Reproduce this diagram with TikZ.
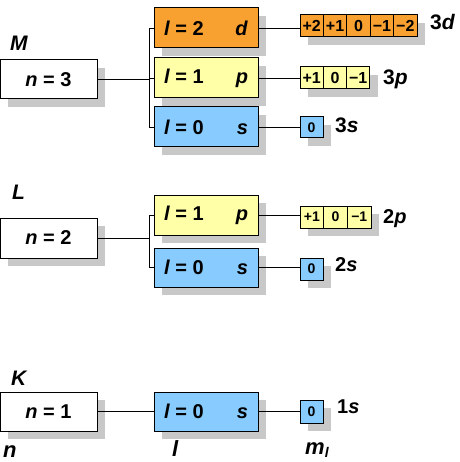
\documentclass[tikz,border=0pt]{standalone}
\usepackage{fontspec}
\setmainfont{Liberation Sans}
\usetikzlibrary{shadows}
\definecolor{orng}{RGB}{248,160,48}
\definecolor{yel}{RGB}{255,255,168}
\definecolor{blu}{RGB}{136,204,255}
\definecolor{shd}{RGB}{200,200,200}
\tikzset{
  shbox/.style={draw, line width=1pt, anchor=north west, inner sep=0pt, outer sep=0pt,
    drop shadow={shadow xshift=8pt, shadow yshift=-8pt, fill=shd, opacity=1}},
  nbox/.style={shbox, fill=white, minimum width=97pt, minimum height=39pt,
    font=\bfseries\fontsize{20}{20}\selectfont},
  lbox/.style={shbox, minimum width=104pt, minimum height=40pt,
    font=\bfseries\fontsize{20}{20}\selectfont},
  cell/.style={shbox, minimum height=22pt, font=\bfseries\fontsize{16}{16}\selectfont},
  scell/.style={cell, font=\bfseries\fontsize{14}{14}\selectfont},
  lab/.style={anchor=base west, inner sep=0pt, font=\bfseries\fontsize{21}{21}\selectfont},
  big/.style={lab, font=\bfseries\itshape\fontsize{21}{21}\selectfont},
  conn/.style={line width=0.9pt},
}
\newcommand{\lt}[2]{\makebox[84pt]{\textit{l} = #1\hfill\textit{#2}}}
\begin{document}
\begin{tikzpicture}[x=1pt,y=-1pt]
\useasboundingbox (0,0) rectangle (459,462);

% ---------------- M shell ----------------
\node[big] (M) at (10,51) {M};
\node[nbox] (n3) at (0,60) {\textit{n} = 3};
\node[lbox, fill=orng] (l32) at (154,8) {\lt{2}{d}};
\node[lbox, fill=yel] (l31) at (154,58) {\lt{1}{p}};
\node[lbox, fill=blu] (l30) at (154,107) {\lt{0}{s}};

\node[cell, fill=orng, minimum width=23.4pt] (d1) at (300,15) {+2};
\node[cell, fill=orng, minimum width=23.4pt] (d2) at (d1.north east) {+1};
\node[cell, fill=orng, minimum width=23.4pt] (d3) at (d2.north east) {0};
\node[cell, fill=orng, minimum width=23.4pt] (d4) at (d3.north east) {−1};
\node[cell, fill=orng, minimum width=23.4pt] (d5) at (d4.north east) {−2};

\node[cell, fill=yel, minimum width=23.3pt] (p1) at (300,67) {+1};
\node[cell, fill=yel, minimum width=23.3pt] (p2) at (p1.north east) {0};
\node[cell, fill=yel, minimum width=23.3pt] (p3) at (p2.north east) {−1};

\node[scell, fill=blu, minimum width=23pt, minimum height=21pt] (s3) at (300,117) {0};

\node[lab] (t3d) at (430,30) {3\textit{d}};
\node[lab] (t3p) at (383,85) {3\textit{p}};
\node[lab] (t3s) at (335,133) {3\textit{s}};

\draw[conn] (n3.east) -- (n3.east -| 149,0);
\draw[conn] (l32.west) -- ++(-5,0) |- (l30.west);
\draw[conn] (l31.west) -- ++(-5,0);
\draw[conn] (l32.east) -- (l32.east -| d1.west);
\draw[conn] (l31.east) -- (l31.east -| p1.west);
\draw[conn] (l30.east) -- (l30.east -| s3.west);

% ---------------- L shell ----------------
\node[big] (L) at (12,200) {L};
\node[nbox, minimum height=40pt] (n2) at (0,218) {\textit{n} = 2};
\node[lbox, fill=yel] (l21) at (154,195) {\lt{1}{p}};
\node[lbox, fill=blu, minimum height=39pt] (l20) at (154,248) {\lt{0}{s}};

\node[scell, fill=yel, minimum width=23.7pt] (q1) at (300,206) {+1};
\node[scell, fill=yel, minimum width=23.7pt] (q2) at (q1.north east) {0};
\node[scell, fill=yel, minimum width=23.7pt] (q3) at (q2.north east) {−1};
\node[scell, fill=blu, minimum width=23pt] (s2) at (300,258) {0};

\node[lab, font=\bfseries\fontsize{20}{20}\selectfont] (t2p) at (383,223) {2\textit{p}};
\node[lab, font=\bfseries\fontsize{20}{20}\selectfont] (t2s) at (335,271) {2\textit{s}};

\draw[conn] (n2.east) -- (n2.east -| 149,0);
\draw[conn] (l21.west) -- ++(-5,0) |- (l20.west);
\draw[conn] (l21.east) -- (l21.east -| q1.west);
\draw[conn] (l20.east) -- (l20.east -| s2.west);

% ---------------- K shell ----------------
\node[big] (K) at (11,385) {K};
\node[nbox] (n1) at (0,392) {\textit{n} = 1};
\node[lbox, fill=blu, minimum height=39pt] (l10) at (154,392) {\lt{0}{s}};
\node[scell, fill=blu, minimum width=23pt, minimum height=23pt] (s1) at (300,400) {0};
\node[lab, font=\bfseries\fontsize{20}{20}\selectfont] (t1s) at (337,413) {1\textit{s}};

\draw[conn] (n1.east) -- (l10.west);
\draw[conn] (l10.east) -- (l10.east -| s1.west);

% ---------------- axis labels ----------------
\node[big, font=\bfseries\itshape\fontsize{22}{22}\selectfont] (an) at (3,457) {n};
\node[big, font=\bfseries\itshape\fontsize{22}{22}\selectfont] (al) at (172,456) {l};
\node[big, font=\bfseries\itshape\fontsize{22}{22}\selectfont] (aml) at (305,454) {m\raisebox{-3pt}{\fontsize{14}{14}\selectfont l}};
\end{tikzpicture}
\end{document}
